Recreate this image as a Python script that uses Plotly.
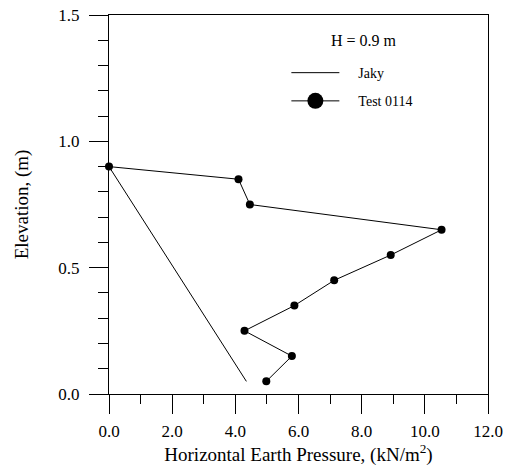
import plotly.graph_objects as go

# Data
jaky_x = [0.0, 4.35]
jaky_y = [0.9, 0.05]

test_x = [0.0, 4.10, 4.46, 10.53, 8.92, 7.13, 5.87, 4.29, 5.79, 4.98]
test_y = [0.90, 0.85, 0.75, 0.65, 0.55, 0.45, 0.35, 0.25, 0.15, 0.05]

FONT = "Liberation Serif, Times New Roman, serif"
PAD = "\u00a0\u00a0\u00a0\u00a0"

fig = go.Figure()
fig.add_trace(go.Scatter(
    x=jaky_x, y=jaky_y, mode="lines", name=PAD + "Jaky",
    line=dict(color="black", width=1), legendgroup="a",
    cliponaxis=False,
))
fig.add_trace(go.Scatter(
    x=test_x, y=test_y, mode="lines+markers", name="Test 0114",
    line=dict(color="black", width=1),
    marker=dict(color="black", size=8), legendgroup="b",
    cliponaxis=False, showlegend=False,
))
# legend entry for the test series (larger symbol, as in the reference key)
fig.add_trace(go.Scatter(
    x=[None], y=[None], mode="lines+markers", name=PAD + "Test 0114",
    line=dict(color="black", width=1),
    marker=dict(color="black", size=16), legendgroup="b",
))

axis_common = dict(
    showline=True, linecolor="black", linewidth=1, mirror=True,
    ticks="outside", tickcolor="black", tickwidth=1, ticklen=19,
    showgrid=False, zeroline=False, automargin=False,
    tickfont=dict(family=FONT, size=17, color="black"),
    tickformat=".1f", ticklabeloverflow="allow",
)

fig.update_layout(
    width=515, height=471,
    margin=dict(l=109, r=27, t=15, b=77, autoexpand=False),
    paper_bgcolor="white", plot_bgcolor="white",
    font=dict(family=FONT, color="black"),
    showlegend=True,
    legend=dict(
        x=0.468, y=0.889, xanchor="left", yanchor="top",
        font=dict(family=FONT, size=14, color="black"),
        bgcolor="rgba(0,0,0,0)", itemwidth=48,
        tracegroupgap=7,
    ),
    xaxis=dict(
        range=[0, 12], dtick=2, tick0=0,
        minor=dict(dtick=1, ticks="outside", ticklen=9, tickcolor="black", tickwidth=1),
        ticklabelstandoff=3,
        title=dict(text="Horizontal Earth Pressure, (kN/m<sup>2</sup>)",
                   font=dict(family=FONT, size=19, color="black"), standoff=5),
        **axis_common,
    ),
    yaxis=dict(
        range=[0, 1.5], dtick=0.5, tick0=0,
        minor=dict(dtick=0.1, ticks="outside", ticklen=10, tickcolor="black", tickwidth=1),
        ticklabelstandoff=6,
        title=dict(text="Elevation, (m)",
                   font=dict(family=FONT, size=19, color="black"), standoff=24),
        **axis_common,
    ),
    annotations=[dict(
        x=0.673, y=0.934, xref="paper", yref="paper",
        xanchor="center", yanchor="middle",
        text="H = 0.9 m", showarrow=False,
        font=dict(family=FONT, size=16, color="black"),
    )],
)

fig.write_html(
    "out.html",
    config={"displayModeBar": False},
    post_script="document.body.style.margin='0';document.body.style.overflow='hidden';",
)
